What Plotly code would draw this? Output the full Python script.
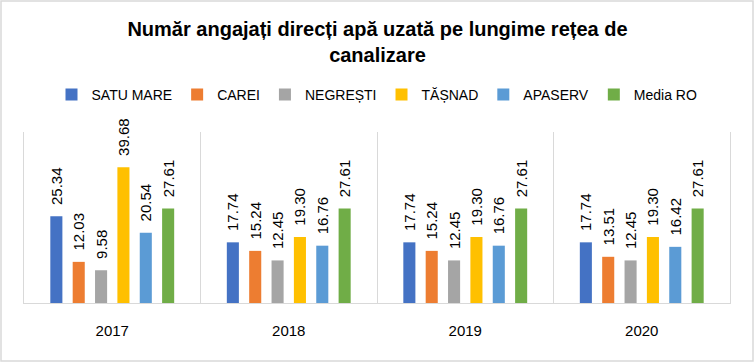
import plotly.graph_objects as go

years = ["2017", "2018", "2019", "2020"]
series_names = ["SATU MARE", "CAREI", "NEGREȘTI", "TĂȘNAD", "APASERV", "Media RO"]
satu_mare = [25.34, 17.74, 17.74, 17.74]
carei = [12.03, 15.24, 15.24, 13.51]
negresti = [9.58, 12.45, 12.45, 12.45]
tasnad = [39.68, 19.30, 19.30, 19.30]
apaserv = [20.54, 16.76, 16.76, 16.42]
media_ro = [27.61, 27.61, 27.61, 27.61]
colors = ["#4472C4", "#ED7D31", "#A5A5A5", "#FFC000", "#5B9BD5", "#70AD47"]

all_values = [satu_mare, carei, negresti, tasnad, apaserv, media_ro]

W, H = 755, 363
L, R, T, B = 24, 25, 132, 60
pw, ph = W - L - R, H - T - B

fig = go.Figure()
pad = "\u00a0\u00a0"
for name, vals, col in zip(series_names, all_values, colors):
    fig.add_trace(go.Bar(
        name=name, x=years, y=vals, marker_color=col, marker_line_width=0,
        text=[pad + f"{v:.2f}" for v in vals],
        textposition="outside", textangle=-90, constraintext="none", cliponaxis=False,
        textfont=dict(family="Liberation Sans, Arial", size=15, color="#000000"),
        hoverinfo="skip",
    ))

def px_x(p):
    return (p - L) / pw

def px_y(p):
    return (H - B - p) / ph

fig.update_layout(
    width=W, height=H,
    margin=dict(l=L, r=R, t=T, b=B, autoexpand=False),
    paper_bgcolor="white", plot_bgcolor="white",
    barmode="group", bargap=0.24, bargroupgap=0.46,
    font=dict(family="Liberation Sans, Arial", color="#000000"),
    title=dict(
        text="<b>Număr angajați direcți apă uzată pe lungime rețea de<br>canalizare</b>",
        x=0.5, xanchor="center", yref="container", y=1 - 36 / H, yanchor="middle",
        font=dict(family="Liberation Sans, Arial", size=20, color="#000000"),
    ),
    legend=dict(
        orientation="h", x=0.5, xanchor="center", y=px_y(95), yanchor="middle",
        font=dict(family="Liberation Sans, Arial", size=14, color="#000000"),
        itemwidth=30, traceorder="normal",
    ),
    showlegend=True,
    xaxis=dict(
        type="category", tickson="boundaries", showgrid=True, gridcolor="#D9D9D9", gridwidth=1,
        showline=True, linecolor="#D9D9D9", linewidth=1, ticks="", ticklabelstandoff=14,
        tickfont=dict(family="Liberation Sans, Arial", size=15, color="#000000"),
        zeroline=False,
    ),
    yaxis=dict(
        range=[0, 50], showgrid=False, showticklabels=False, zeroline=False,
        showline=True, linecolor="#D9D9D9", linewidth=1, mirror=True, ticks="",
    ),
    shapes=[dict(
        type="rect", xref="paper", yref="paper",
        x0=px_x(1), x1=px_x(W - 2), y0=px_y(H - 2), y1=px_y(1),
        line=dict(color="#D9D9D9", width=1.5), fillcolor="rgba(0,0,0,0)", layer="below",
    )],
)

fig.write_html("out.html", config={"displayModeBar": False},
               post_script="document.body.style.margin='0';")
